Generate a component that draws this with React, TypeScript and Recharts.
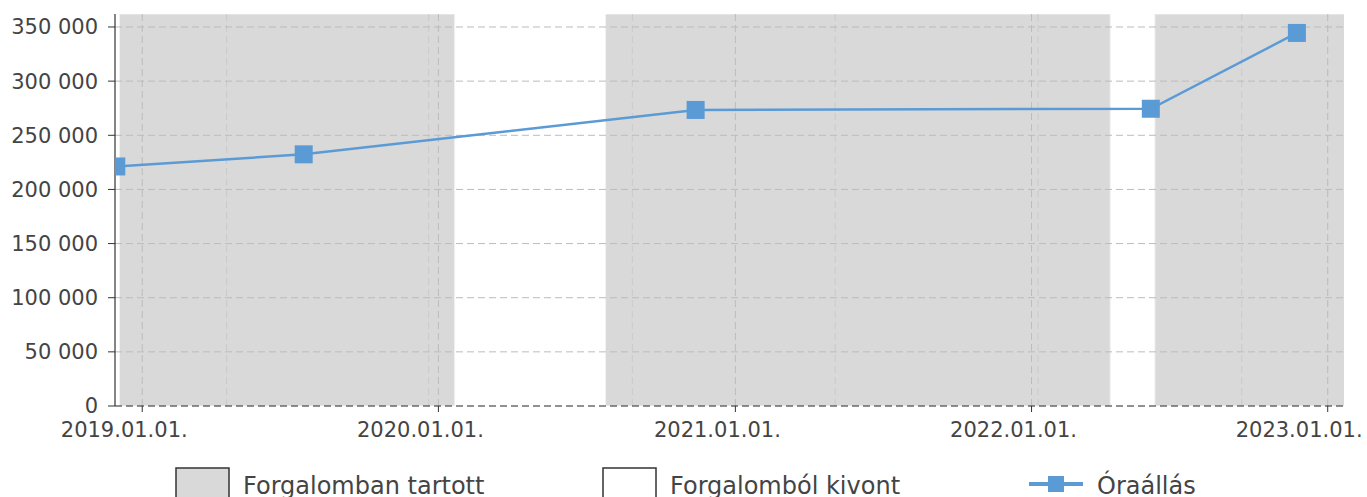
import { LineChart, Line, XAxis, YAxis, ReferenceArea, ReferenceLine } from "recharts";

// óraállás leolvasások
const readingDates = ["2018-11-30", "2019-07-19", "2020-11-13", "2022-05-28", "2022-11-24"];
const readings = [221200, 232400, 273400, 274500, 344500];

// forgalomban tartott időszakok
const activeStarts = ["2018-12-04", "2020-07-25", "2022-06-02"];
const activeEnds = ["2020-01-21", "2022-04-08", "2023-02-15"];

const yearTicks = ["2019-01-01", "2020-01-01", "2021-01-01", "2022-01-01", "2023-01-01"];
const minorGridDates = ["2019-04-15", "2019-12-20", "2020-08-27", "2021-05-04", "2022-01-09", "2022-09-17"];
const yTicks = [0, 50000, 100000, 150000, 200000, 250000, 300000, 350000];
const xRange = ["2018-11-28T10:00:00Z", "2023-01-21T02:00:00Z"];

const ts = (d: string) => new Date(d.length === 10 ? d + "T00:00:00Z" : d).getTime();

const data = readingDates.map((d, i) => ({ t: ts(d), v: readings[i] }));

const FONT = "'DejaVu Sans', sans-serif";
const BLUE = "#5b9bd5";
const GRAY = "#d9d9d9";

const fmtDate = (v: number) => {
  const d = new Date(v);
  const mm = String(d.getUTCMonth() + 1).padStart(2, "0");
  const dd = String(d.getUTCDate()).padStart(2, "0");
  return `${d.getUTCFullYear()}.${mm}.${dd}.`;
};

const fmtNum = (v: number) => String(v).replace(/\B(?=(\d{3})+(?!\d))/g, " ");

const SquareDot = (props: any) => {
  const { cx, cy, index } = props;
  if (cx == null || cy == null) return null;
  return <rect key={index} x={cx - 9} y={cy - 9} width={18} height={18} fill={BLUE} />;
};

export default function App() {
  return (
    <div style={{ position: "absolute", left: 0, top: 0, width: 1367, height: 497, overflow: "hidden", background: "#fff", fontFamily: FONT }}>
      <LineChart width={1367} height={497} data={data} margin={{ top: 14, right: 23, bottom: 61, left: 0 }}>
        {activeStarts.map((s, i) => (
          <ReferenceArea
            key={s}
            x1={ts(s)}
            x2={ts(activeEnds[i])}
            y1={0}
            y2={362000}
            fill={GRAY}
            fillOpacity={1}
            stroke="#f2f2f2"
            strokeWidth={1}
            ifOverflow="hidden"
          />
        ))}
        {minorGridDates.map((d) => (
          <ReferenceLine key={d} x={ts(d)} stroke="#cacaca" strokeDasharray="7 4" strokeWidth={1} ifOverflow="hidden" />
        ))}
        {yearTicks.map((d) => (
          <ReferenceLine key={d} x={ts(d)} stroke="#bcbcbc" strokeDasharray="7 4" strokeWidth={1} ifOverflow="hidden" />
        ))}
        {yTicks.slice(1).map((v) => (
          <ReferenceLine key={v} y={v} stroke="#bcbcbc" strokeDasharray="7 4" strokeWidth={1} ifOverflow="hidden" />
        ))}
        <XAxis
          type="number"
          dataKey="t"
          domain={[ts(xRange[0]), ts(xRange[1])]}
          ticks={yearTicks.map(ts)}
          tickFormatter={fmtDate}
          allowDataOverflow
          height={30}
          tickSize={6}
          tickMargin={10}
          axisLine={{ stroke: "#222", strokeDasharray: "7 4" }}
          tickLine={{ stroke: "#333" }}
          tick={{ fontSize: 21, fill: "#444", fontFamily: FONT, dx: -18 }}
        />
        <YAxis
          type="number"
          dataKey="v"
          domain={[0, 362000]}
          ticks={yTicks}
          tickFormatter={fmtNum}
          allowDataOverflow
          width={115}
          tickSize={7}
          tickMargin={10}
          axisLine={{ stroke: "#333", strokeWidth: 1.2 }}
          tickLine={{ stroke: "#333" }}
          tick={{ fontSize: 21, fill: "#444", fontFamily: FONT }}
        />
        <Line
          type="linear"
          dataKey="v"
          stroke={BLUE}
          strokeWidth={2.5}
          dot={SquareDot}
          activeDot={false}
          isAnimationActive={false}
        />
      </LineChart>
      <svg width={1367} height={497} style={{ position: "absolute", left: 0, top: 0, pointerEvents: "none" }}>
        <rect x={176} y={468} width={53} height={34} fill={GRAY} stroke="#333" strokeWidth={1.5} />
        <text x={243} y={494} fontSize={24} fill="#444" fontFamily={FONT}>Forgalomban tartott</text>
        <rect x={603} y={468} width={53} height={34} fill="#fff" stroke="#333" strokeWidth={1.5} />
        <text x={670} y={494} fontSize={24} fill="#444" fontFamily={FONT}>Forgalomból kivont</text>
        <line x1={1029} y1={484} x2={1083} y2={484} stroke={BLUE} strokeWidth={4} />
        <rect x={1048} y={476} width={16} height={16} fill={BLUE} />
        <text x={1097} y={494} fontSize={24} fill="#444" fontFamily={FONT}>Óraállás</text>
      </svg>
    </div>
  );
}
